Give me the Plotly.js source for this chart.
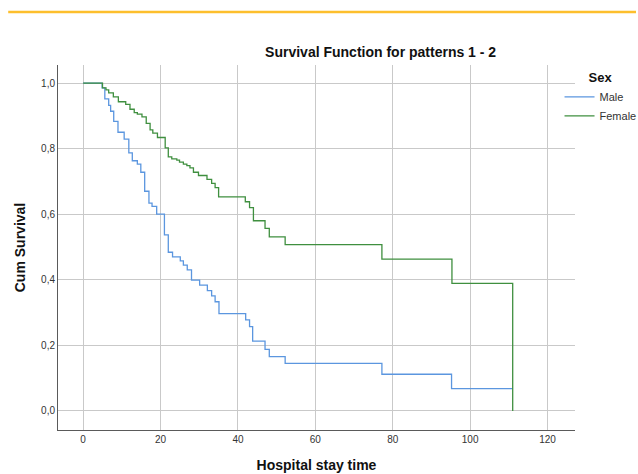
<!DOCTYPE html>
<html>
<head>
<meta charset="utf-8">
<script src="https://cdn.plot.ly/plotly-3.0.1.min.js"></script>
<style>html,body{margin:0;padding:0;background:#fff;}#chart{width:638px;height:474px;}</style>
</head>
<body>
<div id="chart"></div>
<script>
// Kaplan-Meier estimates (time, cumulative survival after the step)
const maleTime = [0, 4.9, 5.6, 6.6, 7.1, 7.9, 9.0, 10.6, 11.8, 12.7, 14.0, 14.9, 15.9, 17.0, 17.8, 19.0, 21.0, 22.0, 23.1, 25.1, 25.9, 26.9, 28.0, 30.1, 32.1, 33.2, 34.1, 35.1, 42.0, 43.0, 43.8, 47.0, 48.1, 52.2, 77.2, 95.2, 111.0];
const maleSurv = [1.0, 0.985, 0.952, 0.932, 0.914, 0.883, 0.850, 0.829, 0.787, 0.763, 0.753, 0.728, 0.670, 0.634, 0.624, 0.600, 0.537, 0.484, 0.470, 0.458, 0.445, 0.430, 0.399, 0.384, 0.367, 0.351, 0.333, 0.297, 0.278, 0.257, 0.213, 0.188, 0.166, 0.145, 0.112, 0.068, 0.068];

const femaleTime = [0, 5.0, 5.9, 6.6, 7.8, 9.1, 11.0, 12.1, 13.2, 14.0, 15.2, 16.3, 17.3, 18.0, 19.2, 21.2, 22.0, 22.9, 24.2, 24.9, 25.9, 26.8, 27.6, 28.5, 29.8, 32.0, 33.2, 34.1, 35.0, 41.9, 43.0, 44.0, 47.0, 48.1, 52.2, 77.2, 95.3, 111.0];
const femaleSurv = [1.0, 0.985, 0.979, 0.970, 0.958, 0.943, 0.935, 0.920, 0.910, 0.905, 0.897, 0.877, 0.857, 0.847, 0.834, 0.802, 0.775, 0.769, 0.765, 0.759, 0.753, 0.748, 0.741, 0.728, 0.718, 0.706, 0.694, 0.681, 0.653, 0.638, 0.620, 0.580, 0.557, 0.531, 0.507, 0.463, 0.389, 0.0];

const groupNames = ["Male", "Female"];
const xTickVals = [0, 20, 40, 60, 80, 100, 120];
const yTickVals = [0, 0.2, 0.4, 0.6, 0.8, 1.0];
const yTickText = ["0,0", "0,2", "0,4", "0,6", "0,8", "1,0"];

const FONT = "Liberation Sans, Arial, sans-serif";

const traces = [
  {x: maleTime, y: maleSurv, name: groupNames[0], type: "scatter", mode: "lines",
   line: {shape: "hv", color: "#5b96df", width: 1.3}},
  {x: femaleTime, y: femaleSurv, name: groupNames[1], type: "scatter", mode: "lines",
   line: {shape: "hv", color: "#3f8f3f", width: 1.3}}
];

const layout = {
  width: 638, height: 474,
  margin: {l: 58, r: 63, t: 65, b: 44, autoexpand: false},
  paper_bgcolor: "#ffffff", plot_bgcolor: "#ffffff",
  font: {family: FONT, size: 10, color: "#333333"},
  hovermode: false,
  title: {text: "Survival Function for patterns 1 - 2", font: {family: FONT, size: 14, color: "#111111", weight: "bold"},
          xref: "paper", x: 0.624, xanchor: "center", yref: "container", y: 0.89, yanchor: "middle"},
  xaxis: {range: [-6.5, 127.1], tickvals: xTickVals, ticktext: xTickVals.map(String),
          showgrid: true, gridcolor: "#c9c9c9", gridwidth: 1, zeroline: false,
          showline: true, linecolor: "#5a5a5a", linewidth: 1, ticks: "",
          tickfont: {family: FONT, size: 10, color: "#333333"},
          title: {text: "Hospital stay time", font: {family: FONT, size: 14, color: "#111111", weight: "bold"}, standoff: 16}},
  yaxis: {range: [-0.058, 1.055], tickvals: yTickVals, ticktext: yTickText,
          showgrid: true, gridcolor: "#c9c9c9", gridwidth: 1, zeroline: false,
          showline: true, linecolor: "#5a5a5a", linewidth: 1, ticks: "",
          tickfont: {family: FONT, size: 10, color: "#333333"},
          title: {text: "Cum Survival", font: {family: FONT, size: 14, color: "#111111", weight: "bold"}, standoff: 12}},
  showlegend: true,
  legend: {xref: "container", yref: "container", x: 0.877, xanchor: "left", y: 0.862, yanchor: "top", bgcolor: "rgba(0,0,0,0)",
           font: {family: FONT, size: 11, color: "#333333"}, itemwidth: 30, tracegroupgap: 0,
           title: {text: "Sex", side: "top center", font: {family: FONT, size: 13, color: "#111111", weight: "bold"}}},
  shapes: [
    {type: "line", xref: "paper", yref: "paper", x0: -0.0963, x1: 1.118, y0: 1.145, y1: 1.145,
     line: {color: "#fdbf2d", width: 2.5}}
  ]
};

Plotly.newPlot("chart", traces, layout, {displayModeBar: false, staticPlot: true});
</script>
</body>
</html>
